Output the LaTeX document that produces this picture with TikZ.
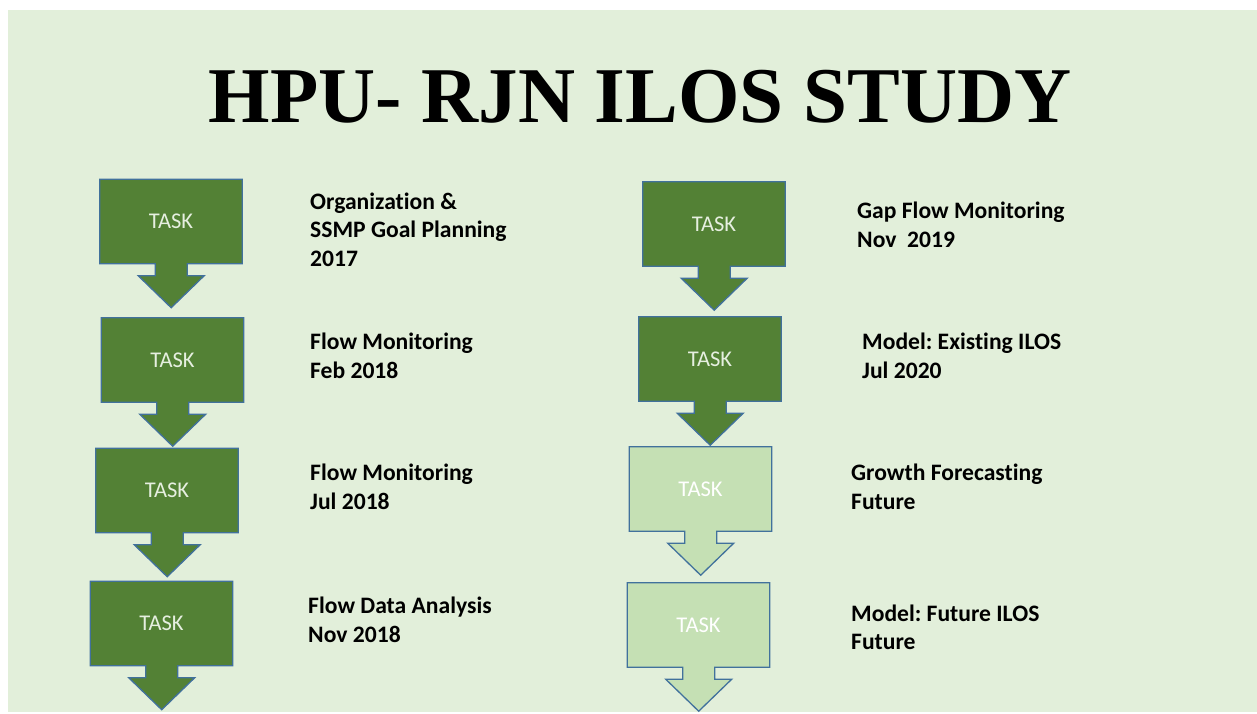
\documentclass[tikz,border=0pt]{standalone}
\usepackage{fontspec}
\setmainfont{Carlito}[Ligatures=NoCommon]
\newfontfamily\titlefont{Liberation Serif}
\frenchspacing
\pgfdeclarelayer{back}
\pgfdeclarelayer{shapes}
\pgfsetlayers{back,shapes,main}
\definecolor{bgc}{HTML}{E2EFDA}
\definecolor{darkfill}{HTML}{538135}
\definecolor{lightfill}{HTML}{C5E0B4}
\definecolor{edgec}{HTML}{41719C}
\definecolor{tasktext}{HTML}{E6EFE0}
\tikzset{
  taskbox/.style={minimum width=142pt, minimum height=84pt, inner sep=0pt,
    font=\fontsize{22.5}{26}\selectfont, text=tasktext},
  lighttask/.style={taskbox, text=white},
  darkshape/.style={fill=darkfill, draw=edgec, line width=1.3pt, line join=miter},
  lightshape/.style={fill=lightfill, draw=edgec, line width=1.3pt, line join=miter},
  label/.style={anchor=west, align=left, inner sep=0pt,
    font=\bfseries\fontsize{23.6}{28.5}\selectfont},
  title/.style={inner sep=0pt, font=\titlefont\bfseries\fontsize{79}{90}\selectfont}
}
\newcommand{\calloutshape}[2]{%
  \begin{pgfonlayer}{shapes}
  \draw[#2] (#1.north west) -- (#1.north east) -- (#1.south east) -- ++(-55,0)
    -- ++(0,12) -- ++(17,0) -- ++(-33,32) -- ++(-33,-32) -- ++(17,0)
    -- ++(0,-12) -- (#1.south west) -- cycle;
  \end{pgfonlayer}}
\begin{document}
\begin{tikzpicture}[x=1pt,y=-1pt]
\useasboundingbox (0,0) rectangle (1257,713);
\begin{pgfonlayer}{back}
\fill[bgc] (8,10) rectangle (1257,712);
\end{pgfonlayer}

\node[title] (ttl) at (640,97) {HPU- RJN ILOS STUDY};

% left column
\node[taskbox] (L1) at (171,221.5) {TASK};
\node[taskbox] (L2) at (172.5,360) {TASK};
\node[taskbox] (L3) at (167,490.5) {TASK};
\node[taskbox] (L4) at (161.5,623.5) {TASK};
\calloutshape{L1}{darkshape}
\calloutshape{L2}{darkshape}
\calloutshape{L3}{darkshape}
\calloutshape{L4}{darkshape}

% right column
\node[taskbox] (R1) at (714,224) {TASK};
\node[taskbox] (R2) at (710,359) {TASK};
\node[lighttask] (R3) at (700.5,489) {TASK};
\node[lighttask] (R4) at (698.5,625) {TASK};
\calloutshape{R1}{darkshape}
\calloutshape{R2}{darkshape}
\calloutshape{R3}{lightshape}
\calloutshape{R4}{lightshape}

% labels
\node[label] (tL1) at (310,229.5) {Organization \&\\SSMP Goal Planning\\2017};
\node[label] (tL2) at (310,356) {Flow Monitoring\\Feb 2018};
\node[label] (tL3) at (310,487) {Flow Monitoring\\Jul 2018};
\node[label] (tL4) at (308,620) {Flow Data Analysis\\Nov 2018};
\node[label] (tR1) at (857,225) {Gap Flow Monitoring\\Nov\ \ 2019};
\node[label] (tR2) at (862,356) {Model: Existing ILOS\\Jul 2020};
\node[label] (tR3) at (851,487) {Growth Forecasting\\Future};
\node[label] (tR4) at (851,627.5) {Model: Future ILOS\\Future};
\end{tikzpicture}
\end{document}
